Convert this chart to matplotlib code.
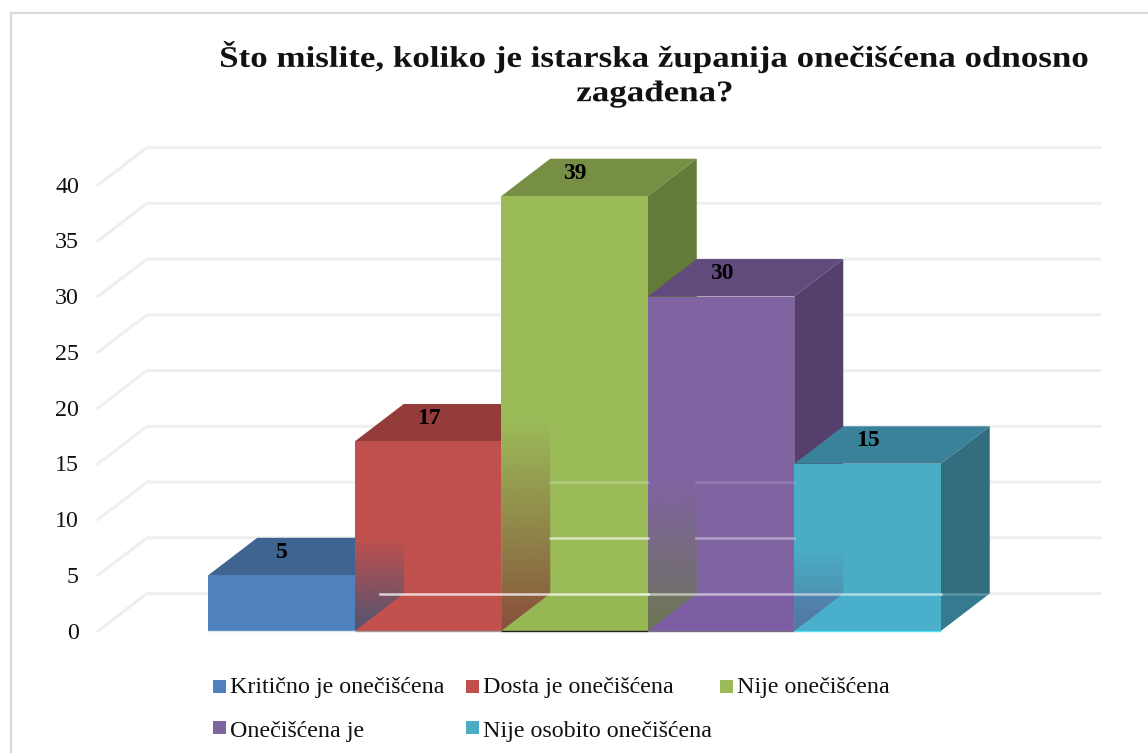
import matplotlib
matplotlib.use('Agg')
import matplotlib.pyplot as plt
from matplotlib.patches import Polygon, Rectangle
from matplotlib.patheffects import AbstractPathEffect
from matplotlib.transforms import Affine2D
import numpy as np

title = "Što mislite, koliko je istarska županija onečišćena odnosno\nzagađena?"
categories = ["Kritično je onečišćena", "Dosta je onečišćena", "Nije onečišćena",
              "Onečišćena je", "Nije osobito onečišćena"]
values = [5, 17, 39, 30, 15]
y_ticks = [0, 5, 10, 15, 20, 25, 30, 35, 40]

front_colors = ['#4f81bd', '#c0504d', '#9bbb59', '#8064a2', '#4bacc6']
top_colors = ['#3f6491', '#943c3a', '#778f44', '#614a7c', '#39829a']
side_colors = ['#365579', '#7f3331', '#647a39', '#553f6c', '#336e80']
floor_colors = [None, '#d05050', '#7aa33a', '#6f3fb0', '#40c0e0']
base_colors = ['#dfe6ef', '#a09a9a', '#222222', '#777080', '#55e0f5']

W, H = 1148, 753
plt.rcParams['font.family'] = ['Liberation Serif', 'DejaVu Serif']


class StretchX(AbstractPathEffect):
    # the title in the original is letter spaced, widen it around its centre
    def __init__(self, sx, cx):
        super().__init__()
        self.sx, self.cx = sx, cx

    def draw_path(self, renderer, gc, tpath, affine, rgbFace=None):
        a = affine + Affine2D().translate(-self.cx, 0).scale(self.sx, 1).translate(self.cx, 0)
        renderer.draw_path(gc, tpath, a, rgbFace)


fig = plt.figure(figsize=(W / 100, H / 100), dpi=100)
ax = fig.add_axes([0, 0, 1, 1])
# 1 unit on x = one bar, 1 unit on y = one answer
xlim = (-281.5 / 146.5, (W - 281.5) / 146.5)
ylim = (-(H - 631) / 11.15, 631 / 11.15)
ax.set_xlim(xlim)
ax.set_ylim(ylim)
ax.axis('off')

dx, dy = 0.3345, 3.36

# frame of the chart
fig.add_artist(Rectangle((11 / W, -0.01), (W - 9) / W, 1 - 13 / H + 0.01, transform=fig.transFigure,
                         fill=False, ec='#d9d9d9', lw=1.6))

for v in y_ticks:
    ax.plot([-1.2525, -1.2525 + dx, 5.587], [v, v + dy, v + dy], color='#efefef', lw=2.2,
            solid_joinstyle='miter', zorder=1)
    ax.text(-1.383, v - 0.2, str(v), ha='right', va='center', fontsize=17.3, color='#111111', zorder=2)


def fade(poly, color, top, amax):
    # see-through side of a bar, drawn over the next bar
    rgb = matplotlib.colors.to_rgb(color)
    n = 64
    img = np.zeros((n, 2, 4))
    img[..., :3] = rgb
    img[..., 3] = np.linspace(0, amax, n)[:, None]
    xs = poly[:, 0]
    im = ax.imshow(img, extent=[xs.min(), xs.max(), 0, top], origin='upper',
                   aspect='auto', zorder=6, interpolation='bilinear')
    clip = Polygon(poly, transform=ax.transData, fc='none', ec='none')
    ax.add_patch(clip)
    im.set_clip_path(clip)


fade_tops = [8.4, 19.1, 13.5, 7.3, 0]
fade_max = [0.8, 0.75, 0.68, 0.4, 0.0]

for i, v in enumerate(values):
    l, r = i - 0.5, i + 0.5
    ax.add_patch(Polygon([(l, v), (r, v), (r + dx, v + dy), (l + dx, v + dy)], fc=top_colors[i], ec='none', zorder=3 + i * 0.1))
    ax.add_patch(Polygon([(r, 0), (r + dx, dy), (r + dx, v + dy), (r, v)], fc=side_colors[i], ec='none', zorder=3 + i * 0.1))
    ax.add_patch(Rectangle((l, 0), 1, v, fc=front_colors[i], ec='none', zorder=3 + i * 0.1 + 0.05))
    # floor seen through the front face
    if floor_colors[i]:
        ax.add_patch(Polygon([(l, 0), (r, 0), (r + dx, dy), (l + dx, dy)], fc=floor_colors[i], alpha=0.16, ec='none', zorder=5))
    ax.plot([l, r], [0, 0], color=base_colors[i], lw=1, solid_capstyle='butt', zorder=7)

for i, v in enumerate(values):
    if fade_max[i] > 0:
        r = i + 0.5
        poly = np.array([(r, 0), (r + dx, dy), (r + dx, fade_tops[i]), (r, fade_tops[i])])
        fade(poly, side_colors[i], fade_tops[i], fade_max[i])

# white grid lines showing through the bars
ax.plot([0.67, 2.5], [dy, dy], color='white', alpha=0.75, lw=1.8, zorder=7)
ax.plot([2.5, 4.5], [dy, dy], color='white', alpha=0.55, lw=1.8, zorder=7)
ax.plot([4.5, 4.83], [dy, dy], color='white', alpha=0.2, lw=1.8, zorder=7)
ax.plot([1.83, 2.5], [5 + dy, 5 + dy], color='white', alpha=0.6, lw=1.8, zorder=7)
ax.plot([2.83, 3.5], [5 + dy, 5 + dy], color='white', alpha=0.4, lw=1.8, zorder=7)
ax.plot([1.83, 2.5], [10 + dy, 10 + dy], color='white', alpha=0.25, lw=1.8, zorder=7)
ax.plot([2.83, 3.5], [10 + dy, 10 + dy], color='white', alpha=0.15, lw=1.8, zorder=7)

ax.set_xlim(xlim)
ax.set_ylim(ylim)

for i, v in enumerate(values):
    ax.text(i + 0.005, v + 2.05, str(v), ha='center', va='center', fontsize=17, fontweight='bold', zorder=8)

t = fig.text(655 / W, 1 - 74 / H, title, ha='center', va='center', fontsize=21.5, fontweight='bold',
             linespacing=1.35, color='#111111')
t.set_path_effects([StretchX(1.17, 655)])

# legend, laid out by hand as two rows
leg_x = [213, 466, 720, 213, 466]
leg_y = [686, 686, 686, 727, 727]
leg_text_y = [687, 687, 687, 731, 731]
for name, c, lx, ly, ty in zip(categories, front_colors, leg_x, leg_y, leg_text_y):
    fig.add_artist(Rectangle((lx / W, 1 - (ly + 6.5) / H), 13 / W, 13 / H, transform=fig.transFigure, fc=c, ec='none'))
    fig.text((lx + 17) / W, 1 - ty / H, name, ha='left', va='center', fontsize=17.3, color='#111111')

fig.savefig('out.png', dpi=100)
